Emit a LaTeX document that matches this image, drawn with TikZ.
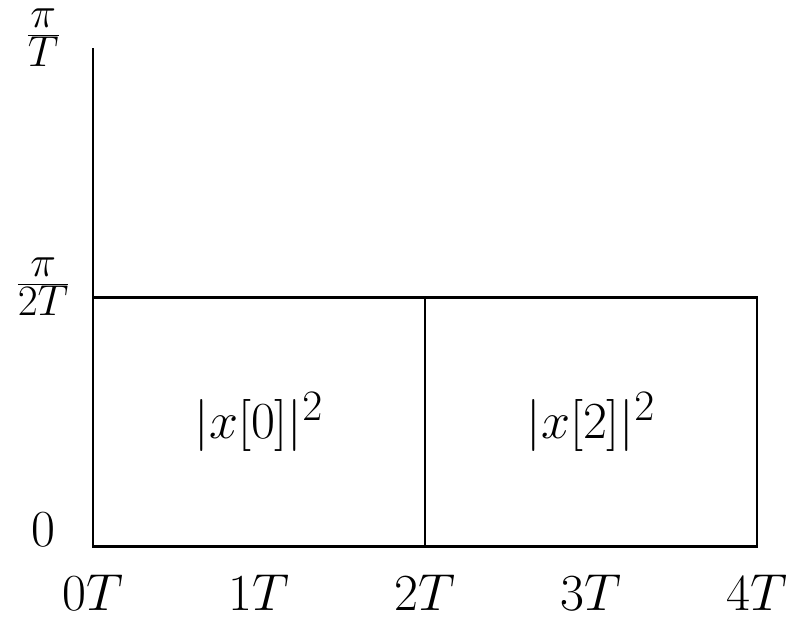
\documentclass[tikz,border=0pt]{standalone}
\usepackage{tikz}

\begin{document}
\begin{tikzpicture}[
    x=2.79cm, y=4.19cm,
    axis/.style={line width=1.25pt, draw=black},
    cell/.style={line width=1.25pt, draw=black},
    lbl/.style={anchor=base, font=\Huge, inner sep=0pt}
  ]
    \useasboundingbox (-0.560,-0.285) rectangle (4.211,2.193);

    % axes
    \coordinate (origin) at (0,0);
    \coordinate (ytop)   at (0,2);
    \coordinate (xend)   at (4,0);
    \draw[axis] (ytop) -- (origin) -- (xend);

    % time-frequency cells
    \draw[cell] (0,0) rectangle (2,1);
    \draw[cell] (2,0) rectangle (4,1);
    \node[font=\Huge] (e0) at (1,0.5) {$|x[0]|^2$};
    \node[font=\Huge] (e2) at (3,0.5) {$|x[2]|^2$};

    % tick labels
    \foreach \t in {0,...,4}
      \node[lbl] (t\t) at (\t,-0.257) {$\t T$};
    \node[lbl] (w0) at (-0.30,0) {$0$};
    \node[lbl] (w1) at (-0.30,1) {$\frac{\pi}{2T}$};
    \node[lbl] (w2) at (-0.30,2) {$\frac{\pi}{T}$};
  \end{tikzpicture}
\end{document}
